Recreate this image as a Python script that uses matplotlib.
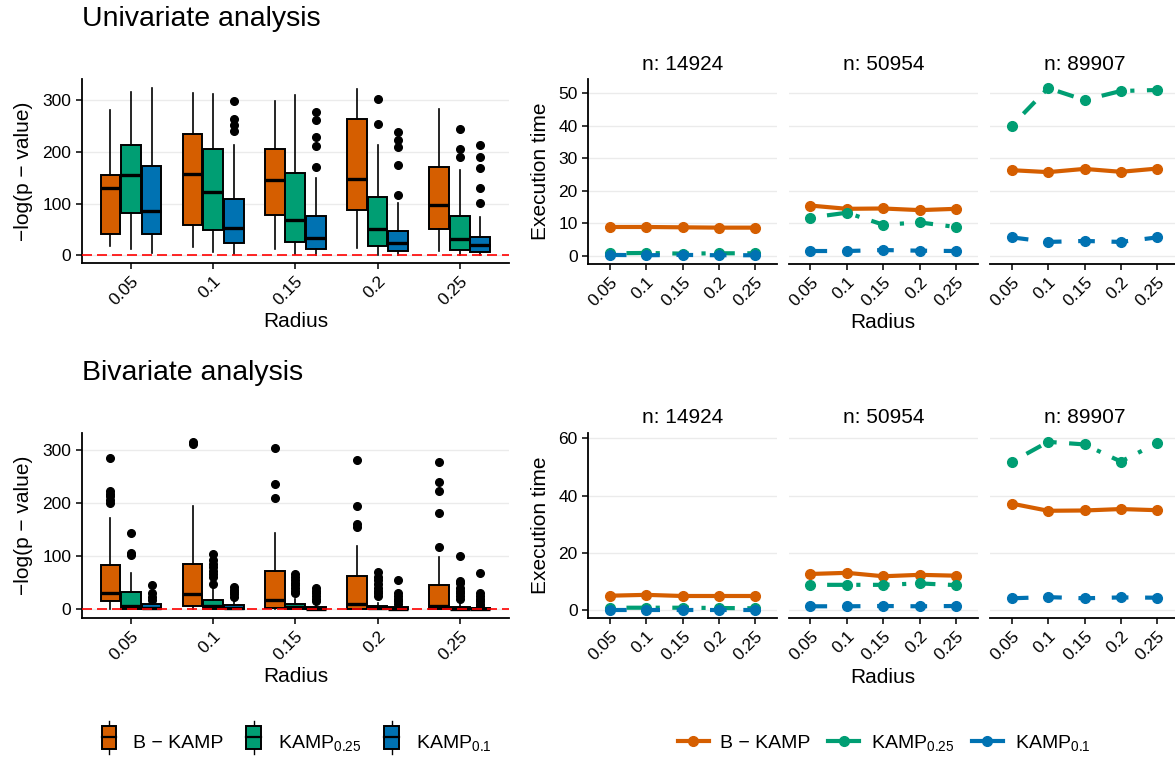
import matplotlib
matplotlib.use('Agg')
import matplotlib.pyplot as plt
from matplotlib.patches import Rectangle
from matplotlib.lines import Line2D
from matplotlib.legend_handler import HandlerBase

plt.rcParams['font.family'] = ['Liberation Sans', 'DejaVu Sans']
plt.rcParams['mathtext.fontset'] = 'custom'
plt.rcParams['mathtext.rm'] = 'Liberation Sans'
plt.rcParams['mathtext.it'] = 'Liberation Sans:italic'

# ---- data ----
radius = ['0.05', '0.1', '0.15', '0.2', '0.25']
methods = ['B − KAMP', 'KAMP$_{0.25}$', 'KAMP$_{0.1}$']
colors = ['#D55E00', '#009E73', '#0072B2']
panels = ['n: 14924', 'n: 50954', 'n: 89907']
sig_line = 1.3

# univariate boxplot stats, rows: B-KAMP, KAMP0.25, KAMP0.1
uni_med = [[130, 157, 146, 148, 98], [155, 122, 68, 51, 32], [86, 53, 33, 24, 20]]
uni_q1 = [[42, 58, 78, 88, 51], [82, 49, 26, 19, 11], [42, 24, 12, 8, 6]]
uni_q3 = [[155, 234, 206, 263, 170], [212, 205, 159, 112, 76], [173, 108, 76, 48, 35]]
uni_lo = [[19, 17, 13, 14, 8], [13, 6, 3, 1, 1], [4.5, 3, 1, 1, 1]]
uni_hi = [[281, 313, 297, 321, 282], [315, 311, 310, 213, 165], [322, 213, 149, 101, 75]]
uni_fl = [[[], [], [], [], []],
          [[], [], [], [302, 253], [243, 205, 190]],
          [[], [298, 263, 252, 240], [277, 261, 229, 210, 170],
           [237, 223, 209, 175, 116], [212, 190, 168, 130, 102]]]

# bivariate boxplot stats
bi_med = [[30, 28, 17, 9, 7], [7, 6, 4, 2, 1], [3, 3, 1, 1, 0.5]]
bi_q1 = [[15, 6, 3, 1, 1], [1, 1, 0, 0, 0], [0, 0, 0, 0, 0]]
bi_q3 = [[84, 86, 72, 62, 46], [33, 18, 10, 6, 5], [9.5, 8, 5, 4, 2]]
bi_lo = [[1, 1, 0, 0, 0], [0, 0, 0, 0, 0], [0, 0, 0, 0, 0]]
bi_hi = [[173, 195, 144, 120, 98], [69, 44, 20, 12, 12], [15, 18, 12, 9, 5]]
bi_fl = [[[285, 223, 218, 213, 207, 201], [316, 312], [305, 237, 210],
          [281, 195, 160, 156], [277, 240, 224, 181, 118]],
         [[144, 106, 102], [105, 93, 86, 80, 73, 67, 61, 47],
          [66, 60, 55, 50, 45, 40, 35, 30], [70, 60, 55, 48, 40, 35, 30, 25],
          [100, 54, 50, 40, 35, 30, 25, 20]],
         [[45, 30, 23, 17], [42, 37, 32, 28, 24], [40, 35, 30, 25, 20, 15],
          [55, 30, 25, 20, 15, 10], [69, 30, 25, 20, 15, 10, 7]]]

# execution times, rows: panels (n), cols: radius
uni_bkamp = [[8.8, 8.8, 8.7, 8.6, 8.6], [15.4, 14.4, 14.5, 14.0, 14.4], [26.3, 25.7, 26.7, 25.8, 26.8]]
uni_k25 = [[0.7, 0.8, 0.6, 0.7, 0.7], [11.7, 13.2, 9.5, 10.2, 8.8], [40.0, 51.6, 47.9, 50.7, 51.0]]
uni_k01 = [[0.2, 0.1, 0.2, 0.1, 0.1], [1.4, 1.4, 1.7, 1.5, 1.4], [5.6, 4.2, 4.5, 4.2, 5.6]]
bi_bkamp = [[5.0, 5.3, 4.9, 4.9, 4.9], [12.6, 13.0, 11.8, 12.3, 12.0], [37.2, 34.7, 34.8, 35.3, 34.9]]
bi_k25 = [[0.8, 0.8, 0.8, 0.7, 0.6], [8.8, 8.8, 8.8, 9.3, 8.7], [51.8, 58.8, 57.9, 51.9, 58.4]]
bi_k01 = [[0.1, 0.1, 0.1, 0.1, 0.1], [1.3, 1.3, 1.4, 1.3, 1.4], [4.1, 4.5, 4.1, 4.4, 4.3]]

W, H = 1175, 760
fig = plt.figure(figsize=(W / 100, H / 100), dpi=100)


def rect(x0, y0, x1, y1):
    return [x0 / W, 1 - y1 / H, (x1 - x0) / W, (y1 - y0) / H]


def style_ax(ax, yaxis=True):
    for s in ['top', 'right']:
        ax.spines[s].set_visible(False)
    ax.spines['bottom'].set_linewidth(1.3)
    ax.spines['left'].set_linewidth(1.3)
    ax.set_axisbelow(True)
    ax.grid(axis='y', color='#EBEBEB', lw=1.0)
    ax.tick_params(axis='both', length=4, width=1.1, labelsize=12.5, color='black')
    ax.set_xticks(range(1, 6))
    ax.set_xticklabels(radius, rotation=45, ha='right', va='top', rotation_mode='anchor')
    ax.set_xlim(0.4, 5.6)
    if not yaxis:
        ax.spines['left'].set_visible(False)
        ax.tick_params(axis='y', length=0, labelleft=False)


def boxpanel(ax, med, q1, q3, lo, hi, fl, ylim):
    offs = [-0.25, 0, 0.25]
    for m in range(3):
        stats = []
        for i in range(5):
            stats.append(dict(med=med[m][i], q1=q1[m][i], q3=q3[m][i],
                              whislo=lo[m][i], whishi=hi[m][i], fliers=fl[m][i]))
        ax.bxp(stats, positions=[i + 1 + offs[m] for i in range(5)], widths=0.24,
               patch_artist=True, showcaps=False, manage_ticks=False,
               boxprops=dict(facecolor=colors[m], edgecolor='black', lw=1.4),
               medianprops=dict(color='black', lw=2.4),
               whiskerprops=dict(color='black', lw=1.2),
               flierprops=dict(marker='o', mfc='black', mec='black', ms=5.5))
    ax.axhline(sig_line, color='red', lw=1.2, dashes=(6, 3), zorder=5)
    style_ax(ax)
    ax.set_ylim(*ylim)
    ax.set_yticks([0, 100, 200, 300])
    ax.set_ylabel('−log(p − value)', fontsize=15, labelpad=7)
    ax.set_xlabel('Radius', fontsize=15, labelpad=3)


def linepanels(y0, y1, bk, k25, k01, ylim, yticks):
    xs = [(588, 777), (788.6, 978), (990, 1179)]
    axes = []
    for p in range(3):
        ax = fig.add_axes(rect(xs[p][0], y0, xs[p][1], y1))
        x = range(1, 6)
        ax.plot(x, bk[p], color=colors[0], lw=3, marker='o', ms=7, solid_capstyle='butt')
        ax.plot(x, k25[p], color=colors[1], lw=3, marker='o', ms=7, dashes=(1, 3, 4, 3))
        ax.plot(x, k01[p], color=colors[2], lw=3, marker='o', ms=7, dashes=(4, 4))
        style_ax(ax, yaxis=(p == 0))
        ax.set_ylim(*ylim)
        ax.set_yticks(yticks)
        ax.set_title(panels[p], fontsize=15, pad=7)
        axes.append(ax)
    axes[0].set_ylabel('Execution time', fontsize=15, labelpad=6)
    axes[1].set_xlabel('Radius', fontsize=15, labelpad=3)


ax1 = fig.add_axes(rect(81.7, 79, 509, 263))
boxpanel(ax1, uni_med, uni_q1, uni_q3, uni_lo, uni_hi, uni_fl, (-14.5, 340))
ax2 = fig.add_axes(rect(81.7, 433.3, 509, 617.7))
boxpanel(ax2, bi_med, bi_q1, bi_q3, bi_lo, bi_hi, bi_fl, (-16, 332))

linepanels(79.3, 264, uni_bkamp, uni_k25, uni_k01, (-2.6, 54.3), [0, 10, 20, 30, 40, 50])
linepanels(432.7, 618.3, bi_bkamp, bi_k25, bi_k01, (-2.9, 62), [0, 20, 40, 60])

fig.text(82 / W, 1 - 26 / H, 'Univariate analysis', fontsize=20.5, va='baseline')
fig.text(82 / W, 1 - 380 / H, 'Bivariate analysis', fontsize=20.5, va='baseline')


class BoxKey(HandlerBase):
    def create_artists(self, legend, orig, xd, yd, w, h, fontsize, trans):
        cx = xd + w / 2
        bw = 10.5
        box = Rectangle((cx - bw / 2, yd - 0.15 * h), bw, 1.3 * h, facecolor=orig.get_facecolor(),
                        edgecolor='black', lw=1.4, transform=trans)
        med = Line2D([cx - bw / 2, cx + bw / 2], [yd + h / 2, yd + h / 2], color='black', lw=1.6, transform=trans)
        wu = Line2D([cx, cx], [yd + 1.15 * h, yd + 1.15 * h + 4], color='black', lw=1.0, transform=trans)
        wd = Line2D([cx, cx], [yd - 0.15 * h - 4, yd - 0.15 * h], color='black', lw=1.0, transform=trans)
        return [wu, wd, box, med]


box_handles = [Rectangle((0, 0), 1, 1, facecolor=c) for c in colors]
fig.legend(box_handles, methods, handler_map={Rectangle: BoxKey()}, loc='center',
           bbox_to_anchor=(294 / W, 1 - 743 / H), ncol=3, frameon=False, fontsize=14,
           handlelength=1.3, handleheight=1.0, handletextpad=0.6, columnspacing=0.9)

line_handles = [Line2D([], [], color=c, lw=3, marker='o', ms=7) for c in colors]
fig.legend(line_handles, methods, loc='center', bbox_to_anchor=(884 / W, 1 - 743 / H),
           ncol=3, frameon=False, fontsize=14, handlelength=1.6, handletextpad=0.6,
           columnspacing=0.9)

fig.savefig('out.png', dpi=100)
